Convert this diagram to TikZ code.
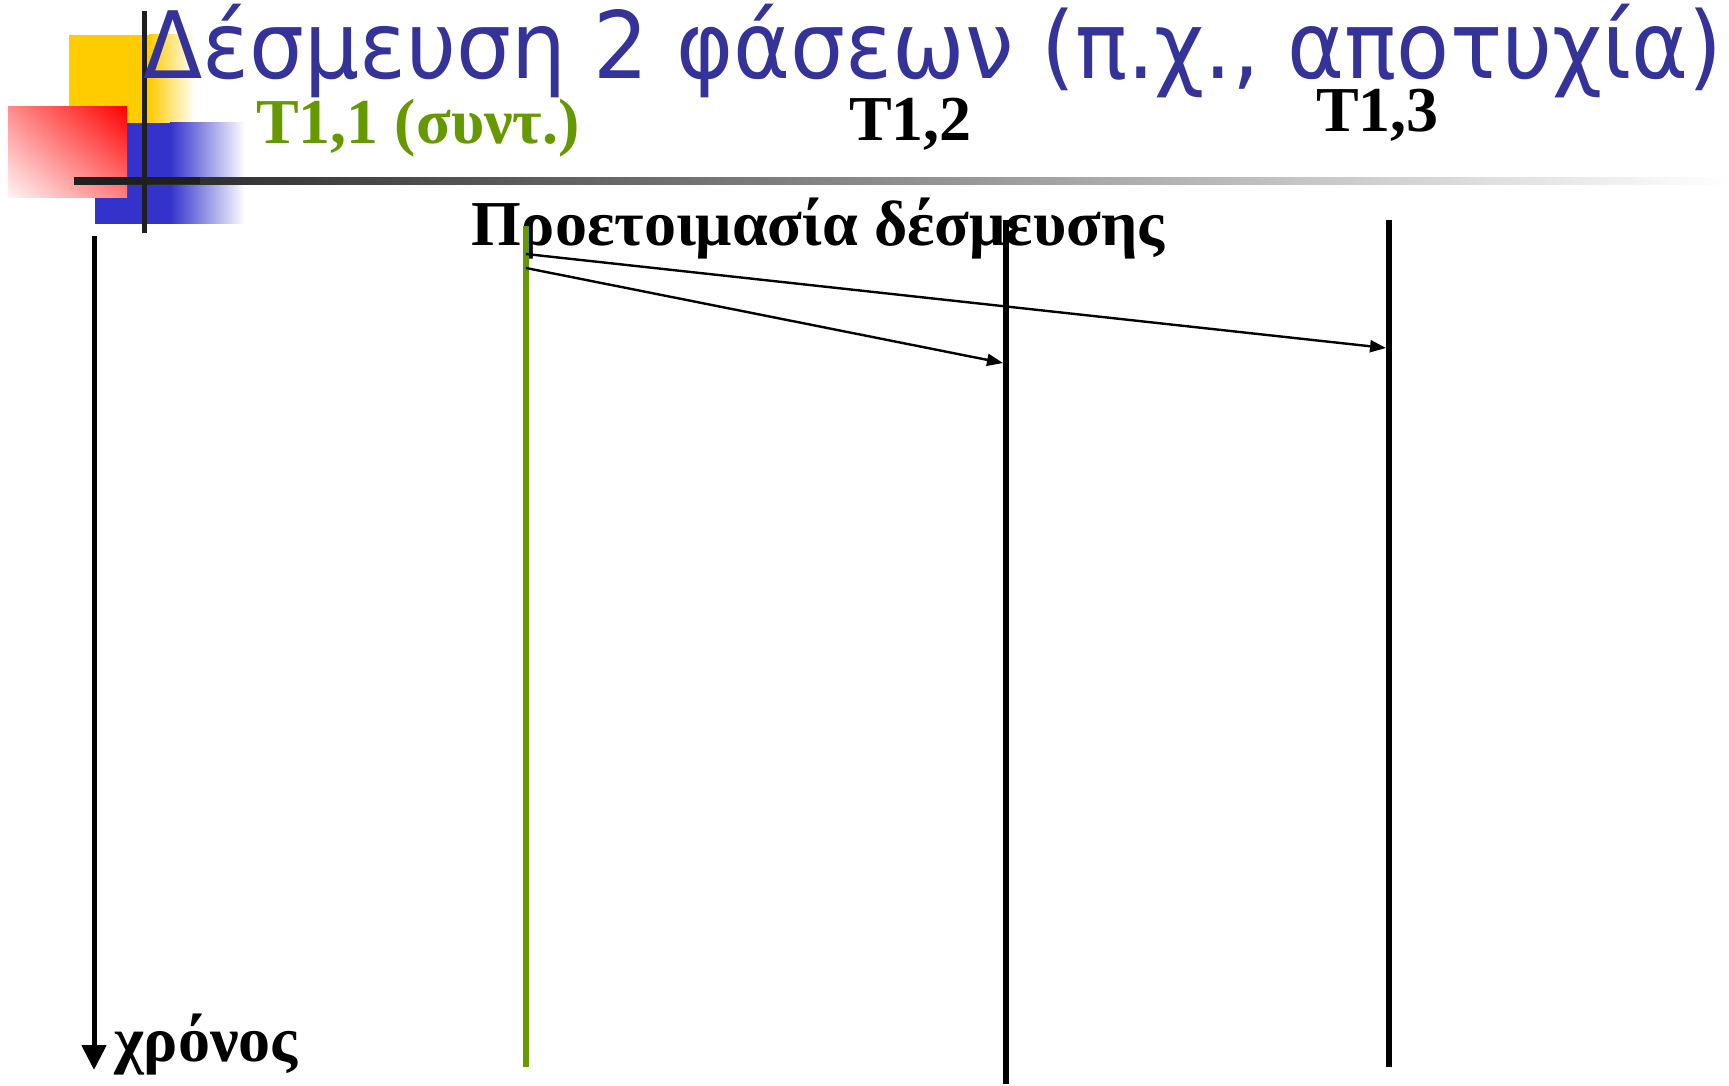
\documentclass[tikz,border=0pt]{standalone}
\usepackage{fontspec}
\setmainfont{Liberation Serif}
\newfontfamily\titlefont{DejaVu Sans}
\usetikzlibrary{arrows.meta,shadings}
\definecolor{titleblue}{HTML}{333399}
\definecolor{leafgreen}{HTML}{669900}
\definecolor{sqyellow}{HTML}{FFCC00}
\definecolor{sqblue}{HTML}{3333CC}
\begin{document}
\begin{tikzpicture}[x=1pt,y=-1pt,
  lbl/.style={anchor=base west,inner sep=0pt,font=\fontsize{64}{68}\selectfont\bfseries},
  lifeline/.style={line width=6pt},
  msg/.style={line width=2.4pt,-{Triangle[width=12pt,length=16pt]}}]
\useasboundingbox (0,0) rectangle (1729,1086);
\fill[white] (0,0) rectangle (1729,1086);

% corner ornament: three fading squares and crossing bars
\fill[sqyellow] (69,35) rectangle (149,123);
\shade[left color=sqyellow,right color=white] (149,35) rectangle (195,123);
\fill[sqblue] (95,123) rectangle (170,224);
\shade[left color=sqblue,right color=white] (170,123) rectangle (245,224);
\shade[upper right=red,lower left=red!4,upper left=red!45,lower right=red!50] (8,107) rectangle (127,198);
\shade[left color=black!88,right color=white] (74,177.5) rectangle (1729,184.5);
\fill[black!88] (74,177.5) rectangle (200,184.5);
\draw[line width=5pt,black!88] (144.5,11) -- (144.5,233);

% heading
\node[anchor=base west,inner sep=0pt,text=titleblue,font=\titlefont\fontsize{93}{100}\selectfont] (title) at (143,79) {\scalebox{0.932}[1]{Δέσμευση 2 φάσεων (π.χ., αποτυχία)}};

% participant labels
\node[lbl,text=leafgreen] (t11) at (256,144) {T1,1 (συντ.)};
\node[lbl] (t12) at (849,141) {T1,2};
\node[lbl] (t13) at (1316,132) {T1,3};
\node[lbl] (prep) at (471,245) {Προετοιμασία δέσμευσης};
\node[lbl] (time) at (114,1061) {χρόνος};

% lifelines
\coordinate (timetop) at (94,236);
\coordinate (timebot) at (94,1070);
\coordinate (l1top) at (526,226);
\coordinate (l1bot) at (526,1067);
\coordinate (l2top) at (1006,220);
\coordinate (l2bot) at (1006,1084);
\coordinate (l3top) at (1389,220);
\coordinate (l3bot) at (1389,1067);
\draw[line width=5pt,-{Triangle[width=24pt,length=25pt]}] (timetop) -- (timebot);
\draw[lifeline,leafgreen] (l1top) -- (l1bot);
\draw[lifeline] (l2top) -- (l2bot);
\draw[lifeline] (l3top) -- (l3bot);

% prepare messages
\coordinate (m1s) at (526,254);
\coordinate (m1e) at (1386,348);
\coordinate (m2s) at (526,268);
\coordinate (m2e) at (1003,363);
\draw[msg] (m1s) -- (m1e);
\draw[msg] (m2s) -- (m2e);
\end{tikzpicture}
\end{document}
